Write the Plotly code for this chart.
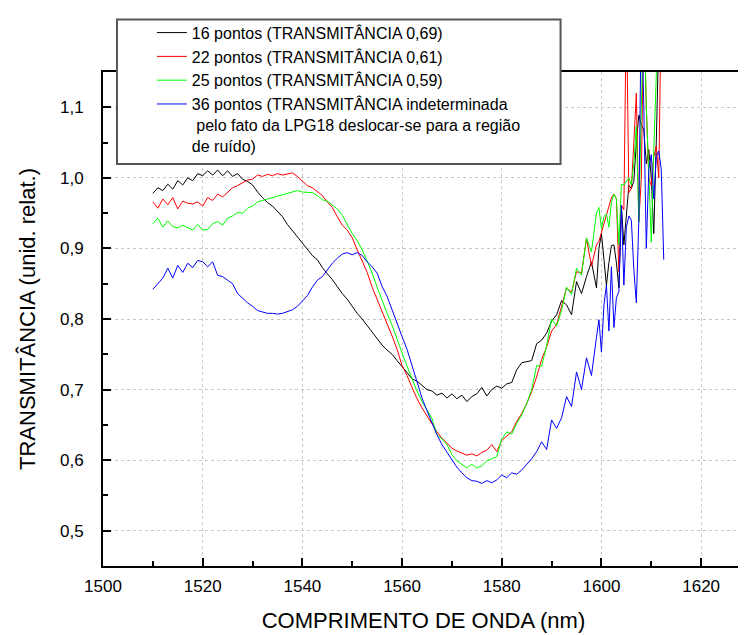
import plotly.graph_objects as go

# Wavelength grid (nm): integer steps, then half-nm steps in the noisy region
wl = [float(v) for v in range(1510, 1600)] + [1599.5 + 0.5 * i for i in range(27)]

t16 = [0.978, 0.986, 0.982, 0.991, 0.984, 0.996, 0.990, 1.000, 0.996, 1.006,
       1.003, 1.010, 1.004, 1.011, 1.003, 1.010, 1.002, 1.006, 0.998, 0.995,
       0.990, 0.980, 0.972, 0.965, 0.960, 0.953, 0.945, 0.934, 0.925, 0.916,
       0.907, 0.899, 0.890, 0.884, 0.873, 0.864, 0.856, 0.846, 0.836, 0.828,
       0.818, 0.808, 0.800, 0.791, 0.782, 0.772, 0.763, 0.756, 0.750, 0.741,
       0.733, 0.724, 0.715, 0.712, 0.706, 0.700, 0.698, 0.692, 0.695, 0.688,
       0.694, 0.687, 0.692, 0.683, 0.690, 0.694, 0.703, 0.691, 0.700, 0.705,
       0.702, 0.708, 0.710, 0.728, 0.738, 0.740, 0.741, 0.765, 0.770, 0.780,
       0.797, 0.806, 0.826, 0.820, 0.806, 0.853, 0.836, 0.860, 0.881, 0.844,
       0.900, 0.921, 0.885, 0.848, 0.880, 0.904, 0.905, 0.880, 0.844, 0.961,
       0.905, 0.950, 0.989, 0.985, 0.995, 1.050, 1.089, 1.075, 1.068, 1.020,
       1.040, 1.000, 0.921, 1.050, 1.200, None, None]

t22 = [0.966, 0.957, 0.970, 0.962, 0.972, 0.956, 0.967, 0.964, 0.963, 0.966,
       0.960, 0.972, 0.968, 0.977, 0.973, 0.980, 0.986, 0.989, 0.993, 0.997,
       0.998, 1.004, 1.002, 1.005, 1.003, 1.006, 1.004, 1.006, 1.007, 1.002,
       0.996, 0.989, 0.986, 0.981, 0.975, 0.966, 0.958, 0.945, 0.933, 0.926,
       0.915, 0.898, 0.883, 0.866, 0.845, 0.827, 0.810, 0.793, 0.776, 0.757,
       0.734, 0.720, 0.703, 0.687, 0.674, 0.662, 0.650, 0.640, 0.631, 0.624,
       0.617, 0.613, 0.610, 0.607, 0.609, 0.606, 0.611, 0.614, 0.622, 0.612,
       0.628, 0.634, 0.640, 0.655, 0.666, 0.680, 0.697, 0.718, 0.743, 0.760,
       0.783, 0.792, 0.820, 0.844, 0.838, 0.867, 0.865, 0.914, 0.875, 0.905,
       0.910, 0.923, 0.935, 0.945, 0.961, 0.972, 0.977, 0.970, 0.867, 0.961,
       0.955, 1.250, 0.979, 0.985, 1.050, 1.120, 0.938, 1.000, 1.250, 1.100,
       1.000, 0.989, 1.030, 1.045, 1.000, 1.250, None]

t25 = [0.935, 0.943, 0.930, 0.939, 0.931, 0.929, 0.933, 0.929, 0.926, 0.934,
       0.926, 0.927, 0.935, 0.938, 0.933, 0.943, 0.946, 0.951, 0.950, 0.957,
       0.960, 0.966, 0.968, 0.971, 0.973, 0.975, 0.977, 0.979, 0.981, 0.982,
       0.980, 0.980, 0.979, 0.975, 0.969, 0.967, 0.962, 0.956, 0.947, 0.933,
       0.921, 0.911, 0.898, 0.882, 0.865, 0.845, 0.825, 0.808, 0.791, 0.770,
       0.752, 0.733, 0.715, 0.698, 0.683, 0.670, 0.659, 0.636, 0.630, 0.622,
       0.608, 0.599, 0.594, 0.589, 0.594, 0.589, 0.592, 0.599, 0.602, 0.605,
       0.630, 0.640, 0.637, 0.652, 0.664, 0.680, 0.700, 0.734, 0.733, 0.762,
       0.800, 0.790, 0.812, 0.845, 0.835, 0.872, 0.862, 0.915, 0.895, 0.950,
       0.958, 0.928, 0.945, 0.949, 0.930, 0.965, 0.977, 0.970, 0.905, 0.991,
       0.990, 0.995, 1.000, 0.990, 1.020, 1.073, 0.937, 1.100, 1.250, 1.100,
       1.000, 0.909, 1.040, 1.200, 1.250, None, None]

t36 = [0.842, 0.850, 0.858, 0.872, 0.858, 0.876, 0.866, 0.879, 0.873, 0.883,
       0.881, 0.874, 0.881, 0.862, 0.860, 0.855, 0.850, 0.836, 0.829, 0.823,
       0.818, 0.812, 0.810, 0.808, 0.808, 0.807, 0.808, 0.810, 0.813, 0.818,
       0.825, 0.833, 0.845, 0.855, 0.860, 0.870, 0.879, 0.886, 0.892, 0.894,
       0.891, 0.894, 0.890, 0.881, 0.874, 0.865, 0.846, 0.832, 0.812, 0.792,
       0.775, 0.757, 0.735, 0.712, 0.688, 0.670, 0.652, 0.636, 0.622, 0.611,
       0.600, 0.590, 0.582, 0.575, 0.571, 0.570, 0.567, 0.571, 0.568, 0.572,
       0.579, 0.575, 0.582, 0.580, 0.586, 0.594, 0.602, 0.612, 0.626, 0.615,
       0.657, 0.645, 0.660, 0.690, 0.676, 0.725, 0.700, 0.745, 0.720, 0.774,
       0.799, 0.753, 0.820, 0.848, 0.783, 0.874, 0.788, 0.830, 0.839, 0.961,
       0.848, 0.930, 0.946, 0.940, 0.870, 0.823, 0.940, 1.250, 1.100, 0.900,
       1.012, 1.033, 0.970, 1.030, 1.038, 1.012, 0.884]

names = [
    "16 pontos (TRANSMITÂNCIA 0,69)",
    "22 pontos (TRANSMITÂNCIA 0,61)",
    "25 pontos (TRANSMITÂNCIA 0,59)",
    "36 pontos (TRANSMITÂNCIA indeterminada<br> pelo fato da LPG18 deslocar-se para a região<br>de ruído)",
]
colors = ["#000000", "#ff0000", "#00ff00", "#0000ff"]
series = [t16, t22, t25, t36]

ytick_vals = [0.5, 0.6, 0.7, 0.8, 0.9, 1.0, 1.1]
ytick_text = ["0,5", "0,6", "0,7", "0,8", "0,9", "1,0", "1,1"]
xtick_vals = [1500, 1520, 1540, 1560, 1580, 1600, 1620]

FONT = "Liberation Sans, Arial, sans-serif"

fig = go.Figure()
for n, c, s in zip(names, colors, series):
    fig.add_trace(go.Scatter(x=wl, y=s, mode="lines", name=n,
                             line=dict(color=c, width=1)))

axis_common = dict(
    showline=True, linecolor="black", linewidth=2, mirror=True,
    ticks="inside", tickcolor="black", tickwidth=2, ticklen=8,
    showgrid=True, gridcolor="#c8c8c8", griddash="dot", gridwidth=1,
    zeroline=False, tickfont=dict(family=FONT, size=17, color="black"),
)

fig.update_layout(
    width=746, height=635,
    margin=dict(l=95, r=8, t=59, b=77),
    paper_bgcolor="white", plot_bgcolor="white",
    font=dict(family=FONT, color="black"),
    showlegend=True,
    legend=dict(
        x=0.0762, y=1.114, xanchor="left", yanchor="top",
        bgcolor="rgba(0,0,0,0)", borderwidth=0,
        font=dict(family=FONT, size=16, color="black"),
        valign="top", tracegroupgap=0,
    ),
    shapes=[dict(
        type="rect", xref="paper", yref="paper",
        x0=0.0218, x1=0.7138, y0=0.8136, y1=1.1062,
        fillcolor="white", line=dict(color="#555555", width=2),
        layer="above",
    )],
    xaxis=dict(
        **axis_common,
        range=[1500, 1628.6], tickvals=xtick_vals,
        minor=dict(dtick=10, tick0=1500, ticks="inside", ticklen=5,
                   tickwidth=2, tickcolor="black", showgrid=False),
        ticklabelstandoff=4,
        title=dict(text="COMPRIMENTO DE ONDA (nm)",
                   font=dict(family=FONT, size=22), standoff=17),
    ),
    yaxis=dict(
        **axis_common,
        range=[0.45, 1.15], tickvals=ytick_vals, ticktext=ytick_text,
        minor=dict(dtick=0.05, tick0=0.45, ticks="inside", ticklen=5,
                   tickwidth=2, tickcolor="black", showgrid=False),
        ticklabelstandoff=14,
        title=dict(text="TRANSMITÂNCIA (unid. relat.)",
                   font=dict(family=FONT, size=22), standoff=18),
    ),
)

fig.write_html("out.html")
